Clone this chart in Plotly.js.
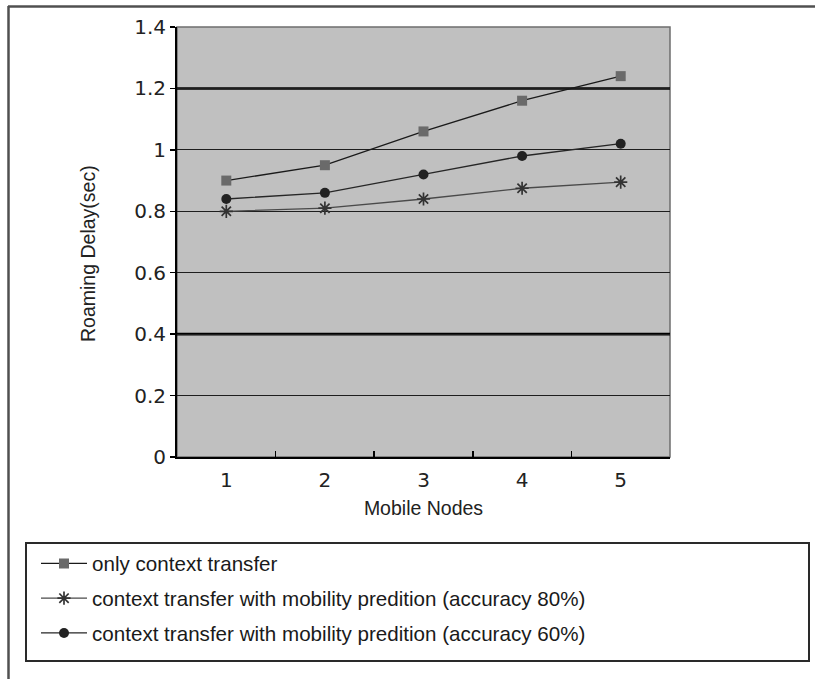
<!DOCTYPE html>
<html>
<head>
<meta charset="utf-8">
<script src="https://cdn.plot.ly/plotly-3.0.1.min.js"></script>
<style>
  html, body { margin: 0; padding: 0; background: #ffffff; }
  #chart { width: 815px; height: 679px; }
</style>
</head>
<body>
<div id="chart"></div>
<script>
// ---- data ----
const categories = ["1", "2", "3", "4", "5"];
const seriesNames = [
  "only context transfer",
  "context transfer with mobility predition (accuracy 80%)",
  "context transfer with mobility predition (accuracy 60%)"
];
const onlyContext = [0.90, 0.95, 1.06, 1.16, 1.24];
const predict80 = [0.80, 0.81, 0.84, 0.875, 0.895];
const predict60 = [0.84, 0.86, 0.92, 0.98, 1.02];
const yTickValues = [0, 0.2, 0.4, 0.6, 0.8, 1, 1.2, 1.4];
const yTickLabels = ["0", "0.2", "0.4", "0.6", "0.8", "1", "1.2", "1.4"];
const heavyGrid = [0.4, 1.2];
const xTitle = "Mobile Nodes";
const yTitle = "Roaming Delay(sec)";

// ---- geometry helpers (pixels -> paper) ----
const W = 815, H = 679, L = 177, R = 670, T = 27, B = 457;
const px2x = p => (p - L) / (R - L);
const px2y = p => (B - p) / (B - T);

const traces = [
  {
    x: categories, y: onlyContext, name: seriesNames[0], type: "scatter", mode: "lines+markers",
    legendgroup: "a",
    line: { color: "#1a1a1a", width: 1.3 },
    marker: { symbol: "square", size: 10, color: "#6a6a6a", line: { width: 0 } }
  },
  {
    x: categories, y: predict80, name: seriesNames[1], type: "scatter", mode: "lines+markers",
    legendgroup: "b",
    line: { color: "#4a4a4a", width: 1.3 },
    marker: { symbol: "asterisk-open", size: 11, color: "#333333", line: { width: 1.7, color: "#333333" } }
  },
  {
    x: categories, y: predict60, name: seriesNames[2], type: "scatter", mode: "lines+markers",
    legendgroup: "c",
    line: { color: "#262626", width: 1.3 },
    marker: { symbol: "circle", size: 10, color: "#222222", line: { width: 0 } }
  }
];

const shapes = [
  // plot area border (gray)
  { type: "rect", xref: "x domain", yref: "y domain", x0: 0, x1: 1, y0: 0, y1: 1,
    line: { color: "#6e6e6e", width: 1.5 }, layer: "below" },
  // outer frame lines
  { type: "line", xref: "paper", yref: "paper", x0: px2x(8), x1: px2x(W + 5), y0: px2y(6.5), y1: px2y(6.5),
    line: { color: "#505050", width: 2.5 } },
  { type: "line", xref: "paper", yref: "paper", x0: px2x(8.5), x1: px2x(8.5), y0: px2y(6), y1: px2y(H + 5),
    line: { color: "#505050", width: 2.5 } },
  // legend box
  { type: "rect", xref: "paper", yref: "paper", x0: px2x(26), x1: px2x(809), y0: px2y(661), y1: px2y(543),
    line: { color: "#2a2a2a", width: 2 }, fillcolor: "rgba(0,0,0,0)" }
];
heavyGrid.forEach(v => shapes.push({
  type: "line", xref: "x domain", yref: "y", x0: 0, x1: 1, y0: v, y1: v,
  line: { color: "#000000", width: 2.6 }, layer: "below"
}));

const annotations = [
  { text: yTitle, textangle: -90, xref: "paper", yref: "paper",
    x: px2x(88), y: px2y(254), xanchor: "center", yanchor: "middle", showarrow: false,
    font: { family: "Liberation Sans, Arial, sans-serif", size: 19.5, color: "#222222" } }
];

const layout = {
  width: W, height: H,
  margin: { l: L, r: W - R, t: T, b: H - B, pad: 0 },
  paper_bgcolor: "#ffffff",
  plot_bgcolor: "#c0c0c0",
  font: { family: "Liberation Sans, Arial, sans-serif", color: "#222222", size: 18 },
  showlegend: true,
  legend: {
    x: px2x(36), xanchor: "left",
    y: px2y(543.5), yanchor: "top",
    bgcolor: "rgba(0,0,0,0)", borderwidth: 0,
    itemwidth: 46,
    font: { family: "Liberation Sans, Arial, sans-serif", size: 20.6, color: "#1a1a1a" },
    traceorder: "grouped", tracegroupgap: 5
  },
  xaxis: {
    type: "category",
    range: [-0.5, 4.5],
    showgrid: false, zeroline: false,
    showline: true, linecolor: "#000000", linewidth: 2,
    ticks: "inside", tickson: "boundaries", ticklen: 6, tickwidth: 1.5, tickcolor: "#000000",
    ticklabelstandoff: 4,
    tickfont: { family: "DejaVu Sans, sans-serif", size: 20, color: "#222222" },
    title: { text: xTitle, font: { family: "Liberation Sans, Arial, sans-serif", size: 19.5, color: "#222222" }, standoff: 10 },
    fixedrange: true
  },
  yaxis: {
    range: [0, 1.4],
    tickvals: yTickValues, ticktext: yTickLabels,
    showgrid: true, gridcolor: "#1e1e1e", gridwidth: 1.2,
    zeroline: false,
    showline: true, linecolor: "#000000", linewidth: 2,
    ticks: "outside", ticklen: 5, tickwidth: 1.5, tickcolor: "#000000",
    tickfont: { family: "DejaVu Sans, sans-serif", size: 20, color: "#222222" },
    fixedrange: true
  },
  shapes: shapes,
  annotations: annotations
};

Plotly.newPlot("chart", traces, layout, { displayModeBar: false, staticPlot: true });
</script>
</body>
</html>
